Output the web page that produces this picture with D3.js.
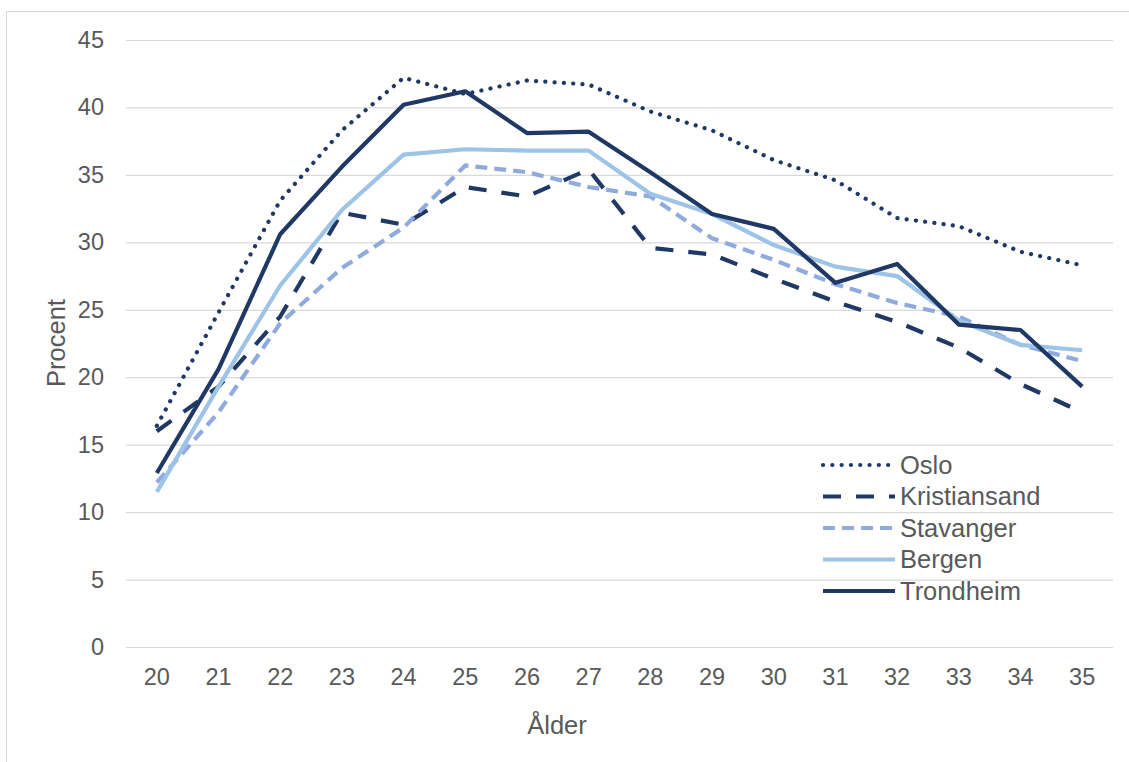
<!DOCTYPE html>
<html>
<head>
<meta charset="utf-8">
<script src="https://cdn.jsdelivr.net/npm/d3@7"></script>
<style>
  html, body { margin: 0; padding: 0; background: #ffffff; }
  svg { display: block; font-family: "Liberation Sans", Arial, sans-serif; }
</style>
</head>
<body>
<svg id="chart" width="1129" height="762"></svg>
<script>
// Age categories on the x axis
const ages = [20, 21, 22, 23, 24, 25, 26, 27, 28, 29, 30, 31, 32, 33, 34, 35];

// Share (percent) per age for each city
const oslo         = [16.4, 24.8, 33.1, 38.3, 42.2, 41.0, 42.0, 41.7, 39.7, 38.3, 36.1, 34.6, 31.8, 31.2, 29.3, 28.3];
const kristiansand = [16.0, 19.3, 24.5, 32.2, 31.3, 34.1, 33.4, 35.4, 29.6, 29.1, 27.3, 25.6, 24.1, 22.2, 19.5, 17.4];
const stavanger    = [12.2, 17.4, 24.0, 28.1, 31.1, 35.7, 35.2, 34.1, 33.4, 30.3, 28.7, 26.9, 25.5, 24.5, 22.4, 21.2];
const bergen       = [11.5, 19.3, 26.8, 32.4, 36.5, 36.9, 36.8, 36.8, 33.6, 32.1, 29.8, 28.2, 27.5, 24.2, 22.4, 22.0];
const trondheim    = [12.9, 20.6, 30.6, 35.6, 40.2, 41.2, 38.1, 38.2, 35.2, 32.1, 31.0, 27.0, 28.4, 23.9, 23.5, 19.3];

const yTicks = [0, 5, 10, 15, 20, 25, 30, 35, 40, 45];
const cities = ["Oslo", "Kristiansand", "Stavanger", "Bergen", "Trondheim"];

const seriesValues = { Oslo: oslo, Kristiansand: kristiansand, Stavanger: stavanger, Bergen: bergen, Trondheim: trondheim };

// Line styles per city
const styles = {
  Oslo:         { color: "#203864", dash: "0.1,9.2", cap: "round", width: 4.2 },
  Kristiansand: { color: "#203864", dash: "18,15",   cap: "butt",  width: 4.2 },
  Stavanger:    { color: "#8faadc", dash: "12,7",    cap: "butt",  width: 4.2 },
  Bergen:       { color: "#9dc3e6", dash: null,      cap: "butt",  width: 4.2 },
  Trondheim:    { color: "#203864", dash: null,      cap: "butt",  width: 4.2 }
};

const svg = d3.select("#chart");
const textColor = "#595959";
const gridColor = "#d9d9d9";

// Outer frame
svg.append("rect")
  .attr("x", 6.5).attr("y", 11.5)
  .attr("width", 1200).attr("height", 800)
  .attr("fill", "none").attr("stroke", gridColor).attr("stroke-width", 1);

const plot = { left: 126, right: 1113, top: 40, bottom: 647 };

const x = d3.scaleBand()
  .domain(ages)
  .range([plot.left, plot.right])
  .paddingInner(0).paddingOuter(0);
const xc = a => x(a) + x.bandwidth() / 2;

const y = d3.scaleLinear().domain([0, 45]).range([plot.bottom, plot.top]);

// Y axis with horizontal gridlines
const yAxis = svg.append("g")
  .attr("transform", `translate(${plot.left},0)`)
  .call(d3.axisLeft(y)
    .tickValues(yTicks)
    .tickSize(-(plot.right - plot.left))
    .tickPadding(22));
yAxis.select(".domain").remove();
yAxis.selectAll(".tick line").attr("stroke", gridColor).attr("stroke-width", 1.2);
yAxis.selectAll(".tick text")
  .attr("fill", textColor)
  .style("font-size", "23.5px")
  .style("font-family", "'Liberation Sans', Arial, sans-serif");

// X axis labels
const xAxis = svg.append("g")
  .attr("transform", `translate(0,${plot.bottom})`)
  .call(d3.axisBottom(x).tickSize(0).tickPadding(21));
xAxis.select(".domain").remove();
xAxis.selectAll(".tick text")
  .attr("fill", textColor)
  .style("font-size", "23.5px")
  .style("font-family", "'Liberation Sans', Arial, sans-serif");

// Axis titles
svg.append("text")
  .attr("x", 557).attr("y", 734)
  .attr("text-anchor", "middle")
  .attr("fill", textColor)
  .style("font-size", "25.5px")
  .text("Ålder");

svg.append("text")
  .attr("transform", "translate(65,343) rotate(-90)")
  .attr("text-anchor", "middle")
  .attr("fill", textColor)
  .style("font-size", "25.5px")
  .text("Procent");

// Series lines
const line = d3.line()
  .x((d, i) => xc(ages[i]))
  .y(d => y(d));

cities.forEach(city => {
  const s = styles[city];
  svg.append("path")
    .datum(seriesValues[city])
    .attr("d", line)
    .attr("fill", "none")
    .attr("stroke", s.color)
    .attr("stroke-width", s.width)
    .attr("stroke-linejoin", "round")
    .attr("stroke-linecap", s.cap)
    .attr("stroke-dasharray", s.dash);
});

// Legend
const legend = svg.append("g").attr("transform", "translate(823,465)");
cities.forEach((city, i) => {
  const s = styles[city];
  const g = legend.append("g").attr("transform", `translate(0,${i * 31.5})`);
  g.append("line")
    .attr("x1", 0).attr("x2", 72)
    .attr("y1", 0).attr("y2", 0)
    .attr("stroke", s.color)
    .attr("stroke-width", s.width)
    .attr("stroke-linecap", s.cap)
    .attr("stroke-dasharray", s.dash);
  g.append("text")
    .attr("x", 77).attr("y", 0)
    .attr("dy", "0.35em")
    .attr("fill", textColor)
    .style("font-size", "25.5px")
    .text(city);
});
</script>
</body>
</html>
